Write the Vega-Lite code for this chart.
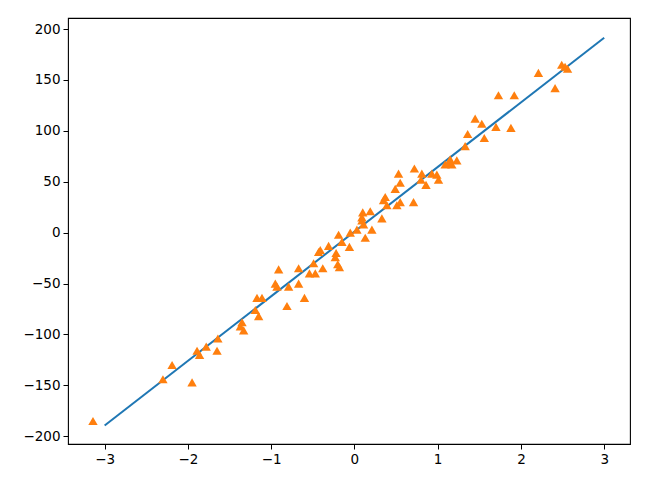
{
  "$schema": "https://vega.github.io/schema/vega-lite/v6.json",
  "width": 562,
  "height": 426,
  "autosize": {"type": "none"},
  "padding": {"left": 68, "top": 18, "right": 21, "bottom": 44},
  "background": "white",
  "config": {
    "view": {"stroke": "black", "strokeWidth": 1.1},
    "axis": {
      "domain": false,
      "grid": false,
      "tickColor": "black",
      "tickSize": 5,
      "tickWidth": 1,
      "labelColor": "black",
      "labelFont": "DejaVu Sans",
      "labelFontSize": 13.5,
      "labelPadding": 3,
      "title": null
    }
  },
  "datasets": {
    "pts": [
      {"x": -3.14, "y": -185}, {"x": -2.30, "y": -144}, {"x": -2.19, "y": -130}, {"x": -1.95, "y": -147},
      {"x": -1.89, "y": -116}, {"x": -1.86, "y": -120}, {"x": -1.78, "y": -112}, {"x": -1.64, "y": -104},
      {"x": -1.65, "y": -116}, {"x": -1.35, "y": -88}, {"x": -1.37, "y": -92}, {"x": -1.33, "y": -96},
      {"x": -1.19, "y": -76}, {"x": -1.17, "y": -64}, {"x": -1.15, "y": -82}, {"x": -1.11, "y": -64},
      {"x": -0.95, "y": -50}, {"x": -0.93, "y": -53}, {"x": -0.91, "y": -36}, {"x": -0.81, "y": -72},
      {"x": -0.79, "y": -53}, {"x": -0.67, "y": -50}, {"x": -0.67, "y": -35}, {"x": -0.60, "y": -64},
      {"x": -0.54, "y": -40}, {"x": -0.47, "y": -40}, {"x": -0.49, "y": -30}, {"x": -0.38, "y": -35},
      {"x": -0.43, "y": -19}, {"x": -0.41, "y": -17}, {"x": -0.31, "y": -13}, {"x": -0.22, "y": -20},
      {"x": -0.23, "y": -24}, {"x": -0.20, "y": -31}, {"x": -0.18, "y": -34}, {"x": -0.19, "y": -2},
      {"x": -0.15, "y": -9}, {"x": -0.06, "y": -14}, {"x": -0.05, "y": 0}, {"x": 0.03, "y": 3},
      {"x": 0.13, "y": -5}, {"x": 0.11, "y": 8}, {"x": 0.09, "y": 12}, {"x": 0.10, "y": 20},
      {"x": 0.09, "y": 15}, {"x": 0.19, "y": 21}, {"x": 0.21, "y": 3}, {"x": 0.33, "y": 14},
      {"x": 0.35, "y": 32}, {"x": 0.37, "y": 35}, {"x": 0.39, "y": 27}, {"x": 0.51, "y": 27},
      {"x": 0.55, "y": 30}, {"x": 0.49, "y": 43}, {"x": 0.55, "y": 49}, {"x": 0.53, "y": 58},
      {"x": 0.71, "y": 30}, {"x": 0.72, "y": 63}, {"x": 0.80, "y": 52}, {"x": 0.81, "y": 58},
      {"x": 0.86, "y": 47}, {"x": 0.93, "y": 58}, {"x": 0.99, "y": 57}, {"x": 1.01, "y": 52},
      {"x": 1.09, "y": 67}, {"x": 1.13, "y": 68}, {"x": 1.15, "y": 72}, {"x": 1.17, "y": 67},
      {"x": 1.23, "y": 71}, {"x": 1.33, "y": 85}, {"x": 1.36, "y": 97}, {"x": 1.45, "y": 112},
      {"x": 1.53, "y": 107}, {"x": 1.56, "y": 93}, {"x": 1.70, "y": 104}, {"x": 1.73, "y": 135},
      {"x": 1.88, "y": 103}, {"x": 1.92, "y": 135}, {"x": 2.21, "y": 157}, {"x": 2.41, "y": 142},
      {"x": 2.49, "y": 165}, {"x": 2.53, "y": 163}, {"x": 2.56, "y": 161}
    ],
    "fit": [
      {"x": -3, "y": -189.5},
      {"x": 3, "y": 191.5}
    ]
  },
  "encoding": {
    "x": {"field": "x", "type": "quantitative", "scale": {"domain": [-3.44, 3.31], "nice": false, "zero": false},
          "axis": {"values": [-3, -2, -1, 0, 1, 2, 3]}},
    "y": {"field": "y", "type": "quantitative", "scale": {"domain": [-207.6, 210.9], "nice": false, "zero": false},
          "axis": {"values": [-200, -150, -100, -50, 0, 50, 100, 150, 200]}}
  },
  "layer": [
    {
      "data": {"name": "fit"},
      "mark": {"type": "line", "color": "#1f77b4", "strokeWidth": 2, "clip": true}
    },
    {
      "data": {"name": "pts"},
      "mark": {"type": "point", "shape": "triangle-up", "filled": true, "color": "#ff7f0e", "opacity": 1, "size": 88, "strokeWidth": 0}
    }
  ]
}
